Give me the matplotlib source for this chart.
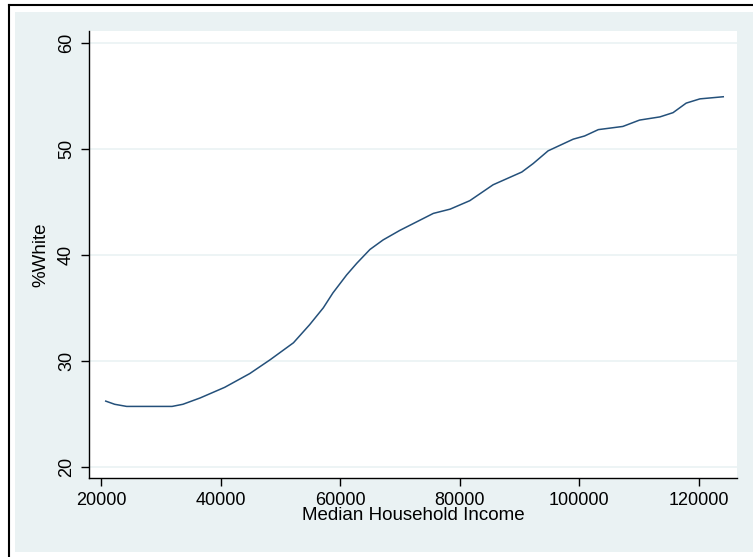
import numpy as np
import matplotlib
matplotlib.use("Agg")
import matplotlib.pyplot as plt
from matplotlib.patches import Rectangle
from matplotlib.lines import Line2D

# Werte (geglaettete Kurve)
income = [20800, 22300, 24300, 28000, 31900, 33700, 36600, 40700, 44900,
          48300, 52200, 54900, 57200, 58800, 61100, 62800, 65000, 67200,
          70000, 72800, 75600, 78400, 81700, 85600, 90400, 92300, 94800,
          99000, 100900, 103200, 107300, 110100, 113500, 115700, 117900,
          120200, 124100]
pct_white = [26.2, 25.9, 25.7, 25.7, 25.7, 25.9, 26.5, 27.5, 28.8,
             30.1, 31.7, 33.4, 35.0, 36.4, 38.1, 39.2, 40.5, 41.4,
             42.3, 43.1, 43.9, 44.3, 45.1, 46.6, 47.8, 48.6, 49.8,
             50.9, 51.2, 51.8, 52.1, 52.7, 53.0, 53.4, 54.3,
             54.7, 54.9]

x_ticks = [20000, 40000, 60000, 80000, 100000, 120000]
y_ticks = [20, 30, 40, 50, 60]

plt.rcParams['font.family'] = ['Liberation Sans', 'DejaVu Sans']

W, H = 753, 557
fig = plt.figure(figsize=(W / 100, H / 100), dpi=100)
fig.patch.set_facecolor('white')

# Stata-Hintergrund und Rahmen
fig.add_artist(Rectangle((15 / W, (H - 552) / H), 1 - 15 / W, (552 - 12) / H,
                         transform=fig.transFigure, facecolor='#eaf2f3',
                         edgecolor='none', zorder=-5))
fig.add_artist(Line2D([8.5 / W, 1], [(H - 4.5) / H, (H - 4.5) / H],
                      transform=fig.transFigure, color='black', lw=1.5, zorder=-4))
fig.add_artist(Line2D([8.5 / W, 8.5 / W], [0, (H - 4.5) / H],
                      transform=fig.transFigure, color='black', lw=1.5, zorder=-4))

ax = fig.add_axes([89 / W, (H - 478) / H, (737 - 89) / W, (478 - 31) / H])
ax.set_facecolor('white')
ax.plot(income, pct_white, color='#24507a', lw=1.1)

ax.set_xlim(18000, 126400)
ax.set_ylim(18.95, 61.1)
ax.set_xticks(x_ticks)
ax.set_yticks(y_ticks)
ax.set_xticklabels([str(v) for v in x_ticks], fontsize=13)
ax.set_yticklabels([str(v) for v in y_ticks], fontsize=13, rotation=90, va='center')
ax.grid(axis='y', color='#eaf2f3', lw=1.2)
ax.set_axisbelow(True)

for s in ['top', 'right']:
    ax.spines[s].set_visible(False)
for s in ['left', 'bottom']:
    ax.spines[s].set_color('black')
    ax.spines[s].set_linewidth(1.0)
ax.tick_params(length=6, width=1, color='black', pad=4)

ax.set_xlabel('Median Household Income', fontsize=13.5, labelpad=-1)
ax.set_ylabel('%White', fontsize=13.5, labelpad=6)

fig.savefig('out.png', dpi=100)
